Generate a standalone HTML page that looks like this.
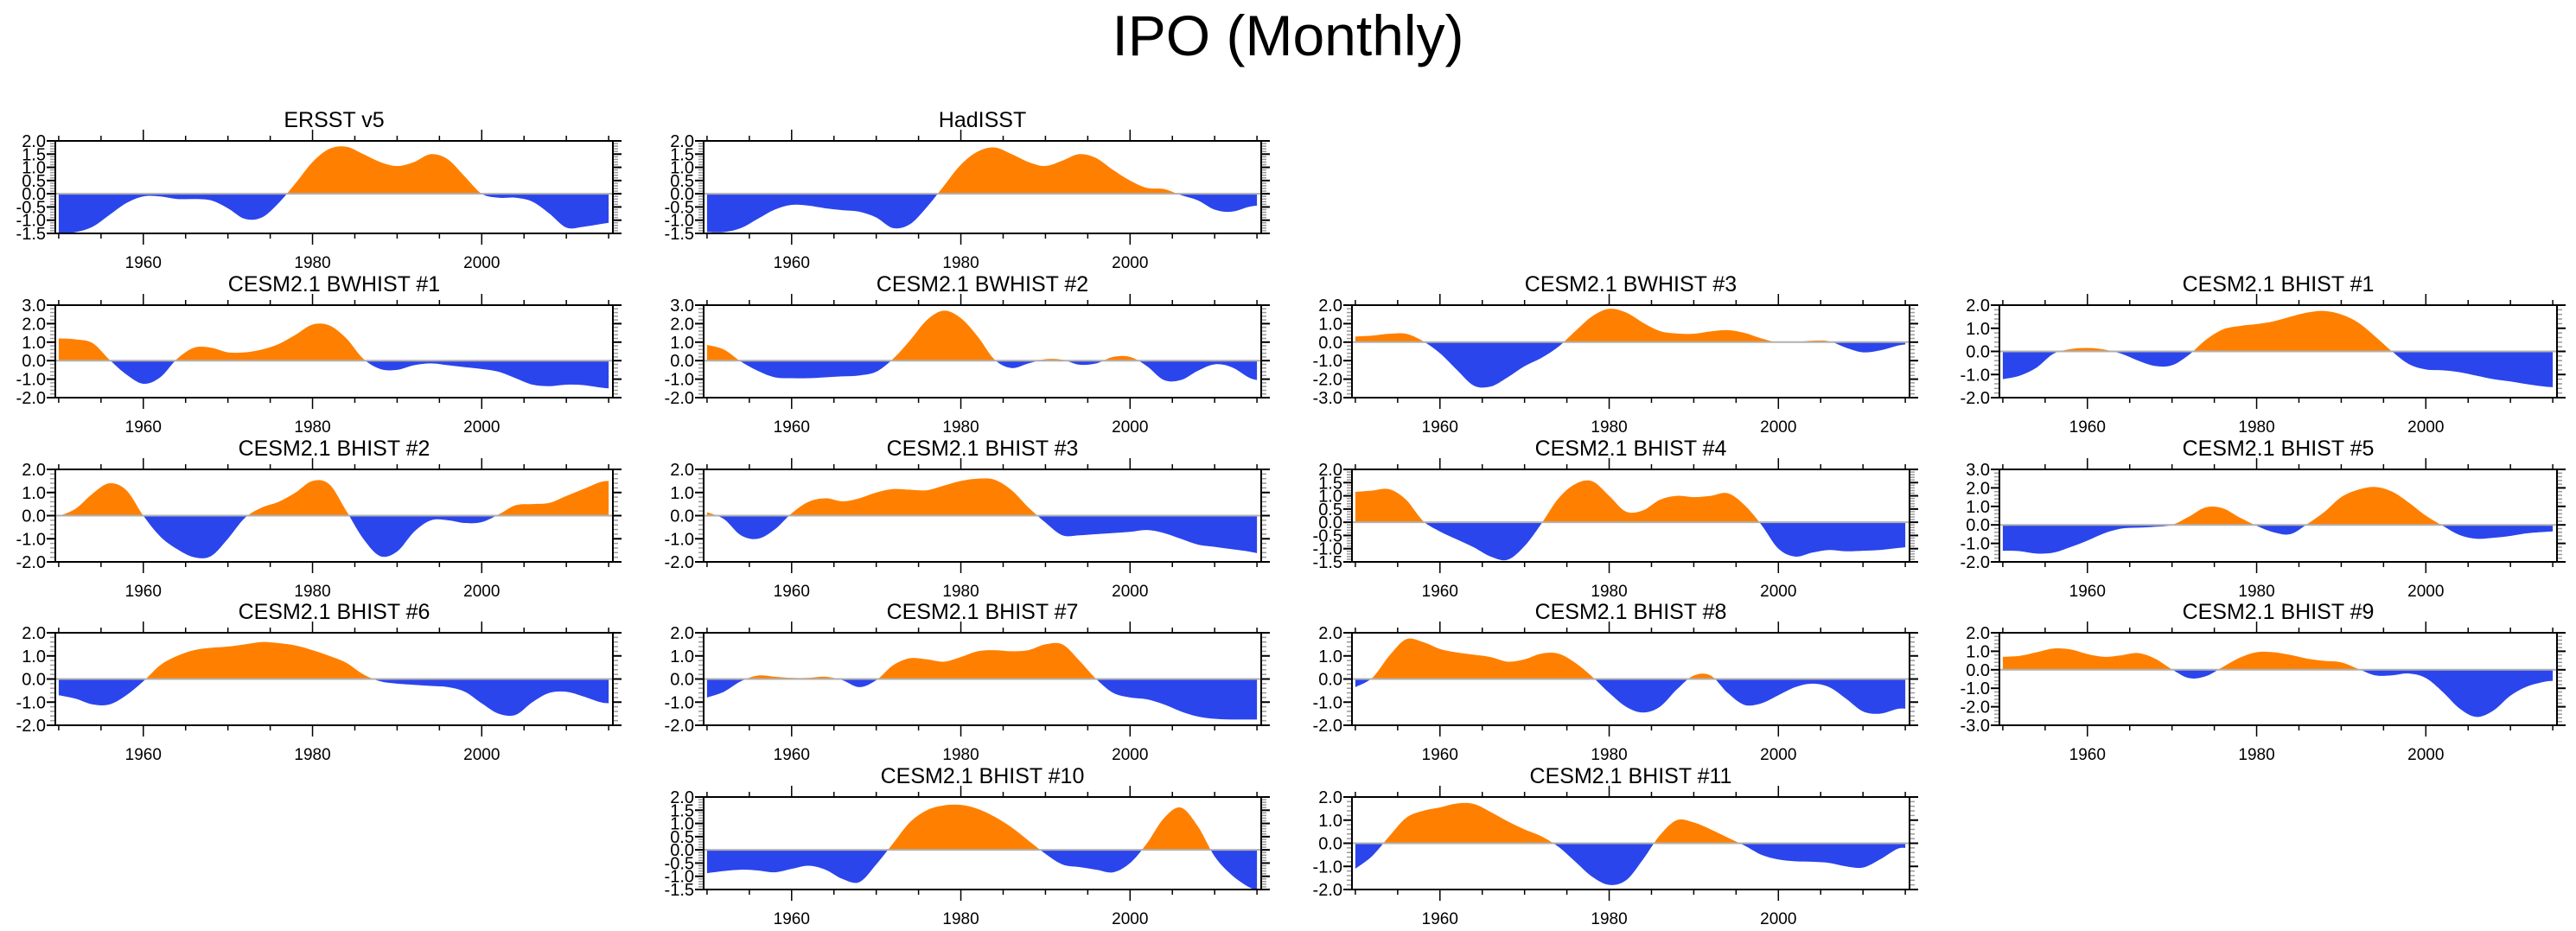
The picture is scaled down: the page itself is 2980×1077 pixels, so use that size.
<!DOCTYPE html>
<html><head><meta charset="utf-8"><style>
html,body{margin:0;padding:0;background:#fff;}
svg{display:block;font-family:"Liberation Sans",Arial,sans-serif;}
</style></head><body>
<svg id="fig" width="2980" height="1077" viewBox="0 0 2980 1077" xmlns="http://www.w3.org/2000/svg">
<text x="1490" y="64" text-anchor="middle" font-size="66" fill="#000">IPO (Monthly)</text>
<g id="panels"></g>
</svg>
<script>
const years = [1950,1952,1954,1956,1958,1960,1962,1964,1966,1968,1970,1972,1974,1976,1978,1980,1982,1984,1986,1988,1990,1992,1994,1996,1998,2000,2002,2004,2006,2008,2010,2012,2014,2015];
const xTickLabels = ["1960","1980","2000"];
const titles = ["ERSST v5","HadISST","CESM2.1 BWHIST #1","CESM2.1 BWHIST #2","CESM2.1 BWHIST #3","CESM2.1 BHIST #1","CESM2.1 BHIST #2","CESM2.1 BHIST #3","CESM2.1 BHIST #4","CESM2.1 BHIST #5","CESM2.1 BHIST #6","CESM2.1 BHIST #7","CESM2.1 BHIST #8","CESM2.1 BHIST #9","CESM2.1 BHIST #10","CESM2.1 BHIST #11"];
const yMins = [-1.5,-1.5,-2,-2,-3,-2,-2,-2,-1.5,-2,-2,-2,-2,-3,-1.5,-2];
const yMaxs = [2,2,3,3,2,2,2,2,2,3,2,2,2,2,2,2];
const ersst = [-1.5,-1.45,-1.25,-0.8,-0.35,-0.1,-0.1,-0.2,-0.2,-0.25,-0.55,-0.95,-0.9,-0.35,0.4,1.2,1.7,1.78,1.5,1.2,1.05,1.2,1.5,1.3,0.65,0.0,-0.15,-0.15,-0.3,-0.75,-1.28,-1.25,-1.15,-1.1];
const hadisst = [-1.45,-1.45,-1.3,-0.95,-0.6,-0.42,-0.45,-0.55,-0.62,-0.68,-0.9,-1.3,-1.15,-0.5,0.3,1.1,1.6,1.75,1.5,1.2,1.05,1.25,1.5,1.35,0.9,0.5,0.22,0.18,-0.05,-0.25,-0.6,-0.68,-0.5,-0.45];
const bwhist1 = [1.2,1.15,0.95,0.05,-0.75,-1.25,-0.9,0.1,0.7,0.7,0.45,0.45,0.6,0.9,1.4,1.95,1.9,1.2,0.1,-0.45,-0.5,-0.25,-0.15,-0.25,-0.35,-0.45,-0.6,-0.95,-1.3,-1.38,-1.3,-1.32,-1.45,-1.5];
const bwhist2 = [0.85,0.6,-0.05,-0.55,-0.9,-0.95,-0.95,-0.9,-0.85,-0.8,-0.6,0.1,1.1,2.2,2.7,2.3,1.3,0.05,-0.4,-0.15,0.08,0.05,-0.22,-0.15,0.2,0.2,-0.3,-1.05,-1.05,-0.55,-0.2,-0.35,-0.9,-1.05];
const bwhist3 = [0.3,0.35,0.45,0.45,0.05,-0.6,-1.5,-2.35,-2.4,-1.9,-1.3,-0.85,-0.25,0.6,1.4,1.8,1.6,1.05,0.6,0.47,0.45,0.58,0.65,0.5,0.2,-0.02,0.0,0.08,0.05,-0.3,-0.55,-0.45,-0.2,-0.12];
const bhist1 = [-1.2,-1.05,-0.7,-0.1,0.1,0.15,0.08,-0.1,-0.4,-0.63,-0.6,-0.15,0.5,0.95,1.1,1.18,1.3,1.5,1.68,1.75,1.6,1.25,0.65,0.0,-0.55,-0.78,-0.82,-0.9,-1.05,-1.2,-1.3,-1.42,-1.52,-1.55];
const bhist2 = [-0.02,0.3,0.95,1.4,1.1,0.0,-0.9,-1.45,-1.8,-1.75,-1.0,-0.1,0.35,0.6,1.0,1.5,1.35,0.2,-1.0,-1.75,-1.55,-0.7,-0.2,-0.2,-0.32,-0.28,0.05,0.45,0.5,0.55,0.85,1.15,1.45,1.5];
const bhist3 = [0.15,-0.15,-0.85,-1.0,-0.6,0.1,0.6,0.75,0.62,0.75,1.0,1.15,1.12,1.1,1.3,1.5,1.6,1.55,1.1,0.35,-0.3,-0.85,-0.85,-0.8,-0.75,-0.7,-0.62,-0.75,-1.0,-1.25,-1.35,-1.45,-1.55,-1.62];
const bhist4 = [1.15,1.2,1.25,0.85,0.05,-0.35,-0.65,-0.95,-1.3,-1.42,-0.9,-0.05,0.9,1.45,1.55,1.0,0.4,0.45,0.85,1.0,0.95,1.0,1.1,0.65,-0.1,-1.0,-1.3,-1.15,-1.05,-1.1,-1.08,-1.05,-0.98,-0.95];
const bhist5 = [-1.4,-1.42,-1.55,-1.5,-1.2,-0.85,-0.45,-0.2,-0.15,-0.1,0.0,0.45,0.95,0.9,0.4,-0.05,-0.4,-0.5,0.05,0.7,1.5,1.9,2.05,1.8,1.2,0.5,-0.05,-0.55,-0.75,-0.7,-0.6,-0.45,-0.38,-0.35];
const bhist6 = [-0.7,-0.85,-1.1,-1.1,-0.7,-0.1,0.6,1.0,1.25,1.35,1.4,1.5,1.6,1.55,1.45,1.25,1.0,0.7,0.2,-0.1,-0.2,-0.25,-0.3,-0.35,-0.55,-1.05,-1.5,-1.55,-1.0,-0.6,-0.55,-0.75,-1.0,-1.05];
const bhist7 = [-0.8,-0.55,-0.1,0.15,0.1,0.05,0.05,0.1,-0.05,-0.35,-0.05,0.6,0.9,0.85,0.75,0.95,1.2,1.25,1.2,1.25,1.5,1.5,0.8,0.0,-0.6,-0.8,-0.88,-1.1,-1.4,-1.62,-1.72,-1.75,-1.75,-1.75];
const bhist8 = [-0.35,0.05,1.0,1.72,1.6,1.3,1.15,1.05,0.95,0.75,0.85,1.1,1.1,0.7,0.1,-0.6,-1.2,-1.45,-1.2,-0.45,0.15,0.15,-0.6,-1.12,-1.05,-0.7,-0.35,-0.2,-0.35,-0.85,-1.4,-1.5,-1.3,-1.28];
const bhist9 = [0.7,0.75,0.95,1.15,1.1,0.85,0.7,0.78,0.9,0.6,0.02,-0.45,-0.35,0.15,0.65,0.95,0.95,0.8,0.6,0.48,0.4,0.05,-0.3,-0.3,-0.2,-0.45,-1.2,-2.1,-2.55,-2.2,-1.4,-0.9,-0.65,-0.6];
const bhist10 = [-0.88,-0.8,-0.75,-0.78,-0.85,-0.72,-0.6,-0.75,-1.1,-1.22,-0.55,0.25,1.05,1.5,1.68,1.7,1.55,1.25,0.85,0.35,-0.15,-0.55,-0.65,-0.75,-0.85,-0.5,0.25,1.2,1.6,0.9,-0.25,-0.95,-1.4,-1.5];
const bhist11 = [-1.1,-0.55,0.3,1.1,1.4,1.55,1.72,1.7,1.35,0.95,0.6,0.3,-0.15,-0.8,-1.45,-1.8,-1.6,-0.7,0.35,1.0,0.9,0.6,0.25,-0.1,-0.5,-0.7,-0.78,-0.8,-0.85,-1.0,-1.05,-0.7,-0.25,-0.2];
const seriesList = [ersst,hadisst,bwhist1,bwhist2,bwhist3,bhist1,bhist2,bhist3,bhist4,bhist5,bhist6,bhist7,bhist8,bhist9,bhist10,bhist11];
const panelCols = [0,1,0,1,2,3,0,1,2,3,0,1,2,3,1,2];
const panelRows = [0,0,1,1,1,1,2,2,2,2,3,3,3,3,4,4];

const NS = "http://www.w3.org/2000/svg";
const colLeft = [64,814,1564,2313], rowTop = [163,353,543,732,922];
const W = 645, H = 107, X0 = 1949.6, X1 = 2015.5;
const root = document.getElementById("panels");
function mk(tag, attrs, parent){ const e=document.createElementNS(NS,tag); for(const k in attrs) e.setAttribute(k,attrs[k]); parent.appendChild(e); return e; }

seriesList.forEach((vals, i) => {
  const L = colLeft[panelCols[i]], T = rowTop[panelRows[i]];
  const ymin = yMins[i], ymax = yMaxs[i];
  const step = (ymax - ymin) < 3.9 ? 0.5 : 1;
  const sx = y => L + (y - X0) / (X1 - X0) * W;
  const sy = v => T + (ymax - v) / (ymax - ymin) * H;
  const g = mk("g", {}, root);
  
  
  const t = mk("text", {x: L + W/2, y: T - 16, "text-anchor":"middle", "font-size":"25", fill:"#000"}, g);
  t.textContent = titles[i];
  
  
  const cid = "c" + i;
  const defs = mk("defs", {}, g);
  const cpA = mk("clipPath", {id: cid + "a"}, defs);
  mk("rect", {x: L, y: T, width: W, height: sy(0) - T}, cpA);
  const cpB = mk("clipPath", {id: cid + "b"}, defs);
  mk("rect", {x: L, y: sy(0), width: W, height: T + H - sy(0)}, cpB);
  const pts = years.map((y, k) => [sx(y), sy(vals[k])]);
  let d = "M" + pts[0][0] + "," + sy(0) + " L" + pts[0][0] + "," + pts[0][1];
  for (let k = 0; k < pts.length - 1; k++) {
    const p0 = pts[Math.max(0,k-1)], p1 = pts[k], p2 = pts[k+1], p3 = pts[Math.min(pts.length-1,k+2)];
    const c1x = p1[0] + (p2[0]-p0[0])/6, c1y = p1[1] + (p2[1]-p0[1])/6;
    const c2x = p2[0] - (p3[0]-p1[0])/6, c2y = p2[1] - (p3[1]-p1[1])/6;
    d += " C" + c1x + "," + c1y + " " + c2x + "," + c2y + " " + p2[0] + "," + p2[1];
  }
  d += " L" + pts[pts.length-1][0] + "," + sy(0) + " Z";
  const pos = mk("path", {d: d, fill: "#ff8000", "clip-path": "url(#" + cid + "a)"}, g);
  
  
  const neg = mk("path", {d: d, fill: "#2b45ec", "clip-path": "url(#" + cid + "b)"}, g);
  
  
  const zl = mk("line", {x1: L, x2: L + W, y1: sy(0), y2: sy(0), stroke: "#b0b0b0", "stroke-width": 2}, g);
  
  
  for (let yr = 1950; yr <= 2015; yr += 5) {
    const x = sx(yr), major = (yr % 20 === 0);
    const len = major ? 13 : 6;
    mk("line", {x1: x, x2: x, y1: T, y2: T - len, stroke: "#000", "stroke-width": 1.5}, g);
    mk("line", {x1: x, x2: x, y1: T + H, y2: T + H + len, stroke: "#000", "stroke-width": 1.5}, g);
  }
  xTickLabels.forEach(lb => {
    const tx = mk("text", {x: sx(+lb), y: T + H + 40, "text-anchor": "middle", "font-size": "19", fill: "#000"}, g);
    tx.textContent = lb;
    
    
  });
  const minor = step / 5;
  const nMinor = Math.round((ymax - ymin) / minor);
  for (let k = 0; k <= nMinor; k++) {
    const v = ymin + k * minor, y = sy(v);
    const isMaj = k % 5 === 0;
    const len = isMaj ? 10 : 6, col = isMaj ? "#000" : "#999";
    mk("line", {x1: L, x2: L - len, y1: y, y2: y, stroke: col, "stroke-width": isMaj ? 2 : 1.5}, g);
    mk("line", {x1: L + W, x2: L + W + len, y1: y, y2: y, stroke: col, "stroke-width": isMaj ? 2 : 1.5}, g);
  }
  const nMaj = Math.round((ymax - ymin) / step);
  for (let k = 0; k <= nMaj; k++) {
    const v = ymin + k * step;
    const ty = mk("text", {x: L - 11, y: sy(v) + 7, "text-anchor": "end", "font-size": "20", fill: "#000"}, g);
    ty.textContent = v.toFixed(1);
    
    
  }
  const box = mk("rect", {x: L, y: T, width: W, height: H, fill: "none", stroke: "#000", "stroke-width": 2}, g);
  
  
});
</script>
</body></html>
